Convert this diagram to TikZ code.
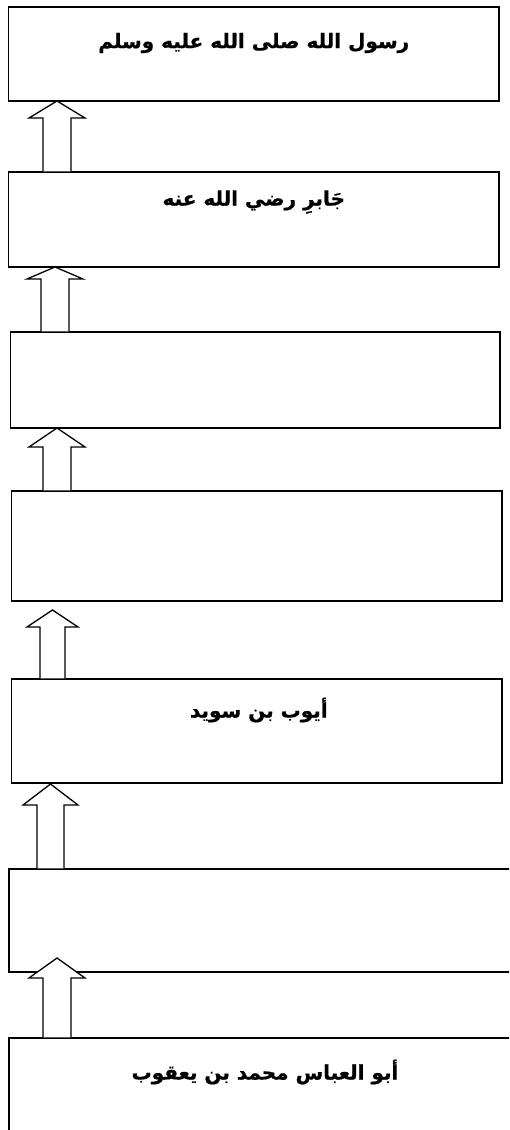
\documentclass[tikz,border=0pt]{standalone}
\usepackage{fontspec}
\usetikzlibrary{calc}
\TeXXeTstate=1
\newfontfamily\arabicfont[Script=Arabic, BoldFeatures={FakeBold=0.8}]{DejaVu Sans}
\tikzset{
  box/.style={draw=black, line width=1.3pt, rectangle, inner sep=0pt, outer sep=0pt},
  lbl/.style={font=\arabicfont\bfseries\fontsize{20}{24}\selectfont, inner sep=0pt},
  blockarr/.style={draw=black, fill=white, line width=1.3pt, line join=miter}
}
% #1 lower box, #2 upper box, #3 centre x, #4 tip offset, #5 head half width, #6 shaft half width, #7 head height
\newcommand\blockup[7]{%
  \coordinate (ax) at (#3,0);
  \path[blockarr] ($(ax |- #1.north)+(-#6,-0.65)$) -- ($(ax |- #2.south)+(-#6,#4+#7)$)
    -- ($(ax |- #2.south)+(-#5,#4+#7)$) -- ($(ax |- #2.south)+(0,#4)$)
    -- ($(ax |- #2.south)+(#5,#4+#7)$) -- ($(ax |- #2.south)+(#6,#4+#7)$)
    -- ($(ax |- #1.north)+(#6,-0.65)$);
}
\begin{document}
\begin{tikzpicture}[x=1pt,y=-1pt]
  \useasboundingbox (0,0) rectangle (509,1130);
  \clip (0,0) rectangle (509,1130);
  \node[box, minimum width=490.5pt, minimum height=94pt] (b1) at (253.75,54) {};
  \node[box, minimum width=490.5pt, minimum height=95pt] (b2) at (253.75,219.5) {};
  \node[box, minimum width=489.3pt, minimum height=96pt] (b3) at (255.35,380) {};
  \node[box, minimum width=490.3pt, minimum height=110pt] (b4) at (256.85,546) {};
  \node[box, minimum width=490.3pt, minimum height=104pt] (b5) at (256.85,731) {};
  \node[box, minimum width=506pt, minimum height=103pt] (b6) at (262,920.5) {};
  \node[box, minimum width=506pt, minimum height=102pt] (b7) at (262,1089) {};

  \node[lbl] (t1) at ($(b1.north)+(0,36)$) {\beginR رسول الله صلى الله عليه وسلم\endR};
  \node[lbl] (t2) at ($(b2.north)+(0,30)$) {\beginR جَابرِ رضي الله عنه\endR};
  \node[lbl] (t5) at ($(b5.north)+(2,31)$) {\beginR أيوب بن سويد\endR};
  \node[lbl] (t7) at ($(b7.north)+(3,34)$) {\beginR أبو العباس محمد بن يعقوب\endR};

  \blockup{b2}{b1}{57}{0}{28}{14}{17}
  \blockup{b3}{b2}{55}{0}{28}{14}{12}
  \blockup{b4}{b3}{57}{0}{28}{14}{19}
  \blockup{b5}{b4}{52.5}{9}{25.5}{12.5}{17}
  \blockup{b6}{b5}{50.5}{1}{27.5}{13.5}{21}
  \blockup{b7}{b6}{57}{-14}{28}{14}{20}
\end{tikzpicture}
\end{document}
